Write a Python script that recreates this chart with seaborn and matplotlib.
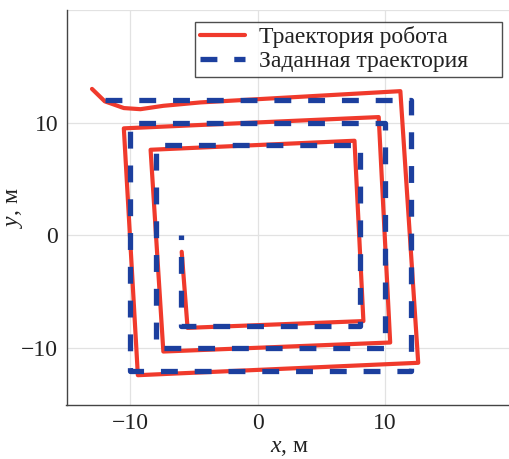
import numpy as np
import pandas as pd
import matplotlib
matplotlib.use("Agg")
import matplotlib.pyplot as plt
import seaborn as sns

# Target (reference) trajectory, m
target_x = [-12, 12, 12, -10, -10, 10, 10, -8, -8, 8, 8, -6, -6]
target_y = [12, 12, -12, -12, 10, 10, -10, -10, 8, 8, -8, -8, 0]

# Robot trajectory, m
robot_x = [-13.0, -12.0, -10.5, -9.2, -7.4, -4.5, 11.2, 12.6, -9.4, -10.5, 9.5, 10.4, -7.4, -8.4, 7.6, 8.3, -5.5, -5.96]
robot_y = [13.0, 11.9, 11.3, 11.2, 11.5, 11.8, 12.8, -11.3, -12.4, 9.5, 10.5, -9.5, -10.3, 7.6, 8.4, -7.6, -8.2, -1.45]

label_robot = "Траектория робота"
label_target = "Заданная траектория"

sns.set_theme(style="white")
plt.rcParams["font.family"] = ["Liberation Serif", "DejaVu Serif"]
plt.rcParams["mathtext.fontset"] = "custom"
plt.rcParams["mathtext.it"] = "Liberation Serif:italic"
plt.rcParams["mathtext.rm"] = "Liberation Serif"

fig = plt.figure(figsize=(5.09, 4.59), dpi=100)
ax = fig.add_axes([66.5 / 509, 1 - 404.5 / 459, 446 / 509, 394.5 / 459])

df_r = pd.DataFrame({"x": robot_x, "y": robot_y})
df_t = pd.DataFrame({"x": target_x, "y": target_y})

sns.lineplot(data=df_r, x="x", y="y", sort=False, estimator=None, ax=ax,
             color="#f03a2c", lw=3.0, label=label_robot)
sns.lineplot(data=df_t, x="x", y="y", sort=False, estimator=None, ax=ax,
             color="#1c3f9e", lw=3.8, linestyle=(0, (3.2, 3.2)),
             label=label_target)

ax.set_xlim(-15, 20)
ax.set_ylim(-15, 20)
ax.set_xticks([-10, 0, 10, 20])
ax.set_xticklabels(["\u221210", "0", "10", ""])
ax.set_yticks([-10, 0, 10, 20])
ax.set_yticklabels(["\u221210", "0", "10", ""])
ax.grid(True, color="#e2e2e2", lw=0.9)
ax.tick_params(direction="in", length=4, width=0.8, colors="#333333",
               labelsize=17, labelcolor="#222222", pad=6)
for s in ["top", "right"]:
    ax.spines[s].set_visible(False)
for s in ["left", "bottom"]:
    ax.spines[s].set_color("#444444")
    ax.spines[s].set_linewidth(1.0)

ax.set_xlabel(r"$x$, м", fontsize=17, color="#222222", labelpad=2)
ax.set_ylabel(r"$y$, м", fontsize=17, color="#222222")
ax.yaxis.set_label_coords((25 - 66.5) / 446, 0.5)

leg = ax.legend(loc="upper left",
                bbox_to_anchor=(195 / 509, 1 - 78.5 / 459, 307 / 509, 57 / 459),
                bbox_transform=fig.transFigure, borderaxespad=0, mode="expand",
                fontsize=17, frameon=True, fancybox=False, handlelength=1.9,
                handletextpad=0.6, borderpad=0.2, labelspacing=0.1)
leg.get_frame().set_edgecolor("#222222")
leg.get_frame().set_linewidth(1.0)
for t in leg.get_texts():
    t.set_color("#222222")

fig.savefig("out.png", dpi=100)
